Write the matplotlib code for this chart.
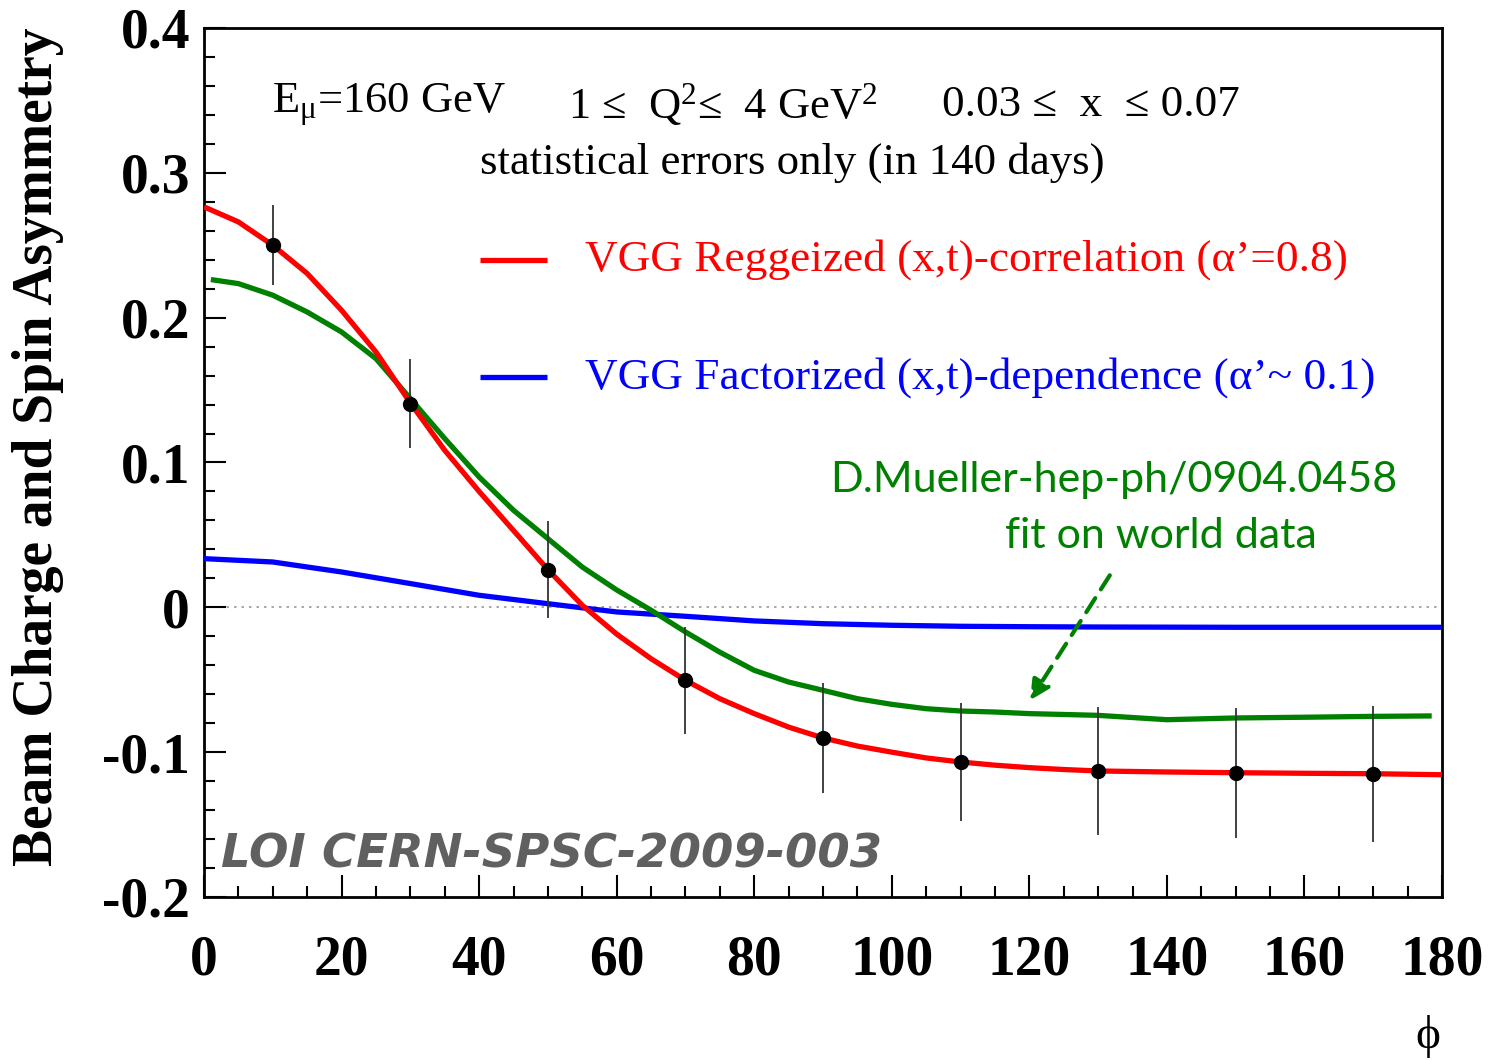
import matplotlib
matplotlib.use("Agg")
import matplotlib.pyplot as plt
from matplotlib.ticker import MultipleLocator

plt.rcParams["mathtext.fontset"] = "custom"
plt.rcParams["mathtext.rm"] = "Liberation Serif"
plt.rcParams["mathtext.it"] = "Liberation Serif:italic"
plt.rcParams["mathtext.bf"] = "Liberation Serif:bold"

# Projected measurement points (phi in degrees) with statistical errors
phi_pts = [10, 30, 50, 70, 90, 110, 130, 150, 170]
asym_pts = [0.250, 0.1407, 0.026, -0.0504, -0.0902, -0.1068, -0.1130, -0.1142, -0.1149]
asym_err = [0.0276, 0.0307, 0.0334, 0.0371, 0.038, 0.041, 0.044, 0.045, 0.047]

# VGG Reggeized (x,t)-correlation
phi_red = [0, 5, 10, 15, 20, 25, 30, 35, 40, 45, 50, 55, 60, 65, 70, 75, 80, 85, 90,
           95, 100, 105, 110, 115, 120, 125, 130, 140, 150, 160, 170, 180]
asym_red = [0.2765, 0.2661, 0.250, 0.2305, 0.2051, 0.1763, 0.1411, 0.1084, 0.080, 0.053,
            0.026, 0.0014, -0.0185, -0.0355, -0.0504, -0.0631, -0.0734, -0.0827, -0.0902,
            -0.0958, -0.1000, -0.1040, -0.1068, -0.1090, -0.1107, -0.1120, -0.1130,
            -0.1137, -0.1142, -0.1146, -0.1149, -0.1156]

# D. Mueller fit on world data
phi_green = [1, 5, 10, 15, 20, 25, 30, 35, 40, 45, 50, 55, 60, 65, 70, 75, 80, 85, 90,
             95, 100, 105, 110, 115, 120, 130, 140, 150, 160, 170, 178.5]
asym_green = [0.2263, 0.2235, 0.2155, 0.2039, 0.1901, 0.1717, 0.1441, 0.1165, 0.0900,
              0.0670, 0.0474, 0.0278, 0.0120, -0.0020, -0.0170, -0.0310, -0.0435, -0.0516,
              -0.0573, -0.0631, -0.0670, -0.0700, -0.0716, -0.0723, -0.0734, -0.0746,
              -0.0776, -0.0764, -0.0759, -0.0753, -0.0750]

# VGG Factorized (x,t)-dependence
phi_blue = [0, 10, 20, 30, 40, 50, 60, 70, 80, 90, 100, 110, 120, 130, 140, 150, 160, 170, 180]
asym_blue = [0.0336, 0.0313, 0.0244, 0.0164, 0.0083, 0.0025, -0.0032, -0.0062, -0.0094,
             -0.0113, -0.0124, -0.0131, -0.0134, -0.0136, -0.0137, -0.0138, -0.0138,
             -0.0138, -0.0138]

x_ticks = [0, 20, 40, 60, 80, 100, 120, 140, 160, 180]
y_ticks = [-0.2, -0.1, 0.0, 0.1, 0.2, 0.3, 0.4]
y_tick_labels = ["-0.2", "-0.1", "0", "0.1", "0.2", "0.3", "0.4"]

RED, BLUE, GREEN = "#ff0000", "#0000ff", "#008000"
serif = "Liberation Serif"

fig = plt.figure(figsize=(14.88, 10.6), dpi=100)
ax = fig.add_axes([0.1371, 0.1538, 0.8320, 0.8198])
ax.set_xlim(0, 180)
ax.set_ylim(-0.2, 0.4)

ax.axhline(0, color="#999999", lw=1.2, ls=(0, (1.5, 3)), zorder=1)

ax.plot(phi_blue, asym_blue, color=BLUE, lw=3.8, solid_capstyle="butt",
        solid_joinstyle="round", zorder=3)
ax.plot(phi_green, asym_green, color=GREEN, lw=3.8, solid_capstyle="butt",
        solid_joinstyle="round", zorder=3)
ax.plot(phi_red, asym_red, color=RED, lw=3.8, solid_capstyle="butt",
        solid_joinstyle="round", zorder=4)
ax.errorbar(phi_pts, asym_pts, yerr=asym_err, fmt="o", color="black", ms=10,
            elinewidth=1.3, capsize=0, ecolor="#333333", zorder=5)

# Axis styling
for s in ax.spines.values():
    s.set_linewidth(2.0)
ax.set_xticks(x_ticks)
ax.set_xticklabels([str(v) for v in x_ticks])
ax.set_yticks(y_ticks)
ax.set_yticklabels(y_tick_labels)
ax.xaxis.set_minor_locator(MultipleLocator(5))
ax.yaxis.set_minor_locator(MultipleLocator(0.02))
ax.tick_params(which="major", direction="in", length=16, width=1.5, top=False, right=False)
ax.tick_params(which="minor", direction="in", length=8, width=1.5, top=False, right=False)
ax.tick_params(axis="x", which="major", pad=27)
ax.tick_params(axis="y", which="major", pad=10)
for lab in ax.get_xticklabels() + ax.get_yticklabels():
    lab.set_fontfamily(serif)
    lab.set_fontweight("bold")
    lab.set_fontsize(40)

fig.text(38 / 1488, 1 - 447 / 1060, "Beam Charge and Spin Asymmetry", rotation=90,
         ha="center", va="center", family=serif, weight="bold", fontsize=40)
fig.text(1428 / 1488, 1 - 1036 / 1060, "ϕ", ha="center", va="center",
         family=serif, fontsize=34)

# Kinematic annotations
ax.text(9.9, 0.347, r"E$_{\mathrm{μ}}$=160 GeV", family=serif, fontsize=32, va="center", ha="left")
ax.text(52.9, 0.347, r"1 ≤  Q$^{2}$≤  4 GeV$^{2}$", family=serif, fontsize=32, va="center", ha="left")
ax.text(107.3, 0.347, "0.03 ≤  x  ≤ 0.07", family=serif, fontsize=32.5, va="center", ha="left")
ax.text(40.1, 0.307, "statistical errors only (in 140 days)", family=serif, fontsize=32.3,
        va="center", ha="left")

# Legend keys and labels
for yk, col, txt in [(0.240, RED, "VGG Reggeized (x,t)-correlation (α’=0.8)"),
                     (0.159, BLUE, "VGG Factorized (x,t)-dependence (α’~ 0.1)")]:
    ax.plot([40.1, 49.9], [yk, yk], color=col, lw=3.8, solid_capstyle="butt")
    ax.text(55.4, yk, txt, color=col, family=serif, fontsize=32.6, va="center", ha="left")

ax.text(132.2, 0.088, "D.Mueller-hep-ph/0904.0458", color=GREEN, family="Lato",
        fontsize=31, va="center", ha="center")
ax.text(139.1, 0.049, "fit on world data", color=GREEN, family="Lato",
        fontsize=31, va="center", ha="center")
ax.annotate("", xy=(120.1, -0.0642), xytext=(131.7, 0.0221),
            arrowprops=dict(arrowstyle="-|>", color=GREEN, lw=3, ls=(0, (4, 2.5)),
                            mutation_scale=30, shrinkA=0, shrinkB=0))

ax.text(2.5, -0.171, "LOI CERN-SPSC-2009-003", color="#606060", family="DejaVu Sans",
        style="italic", weight="bold", fontsize=33.5, va="center", ha="left")

fig.savefig("out.png", dpi=100)
